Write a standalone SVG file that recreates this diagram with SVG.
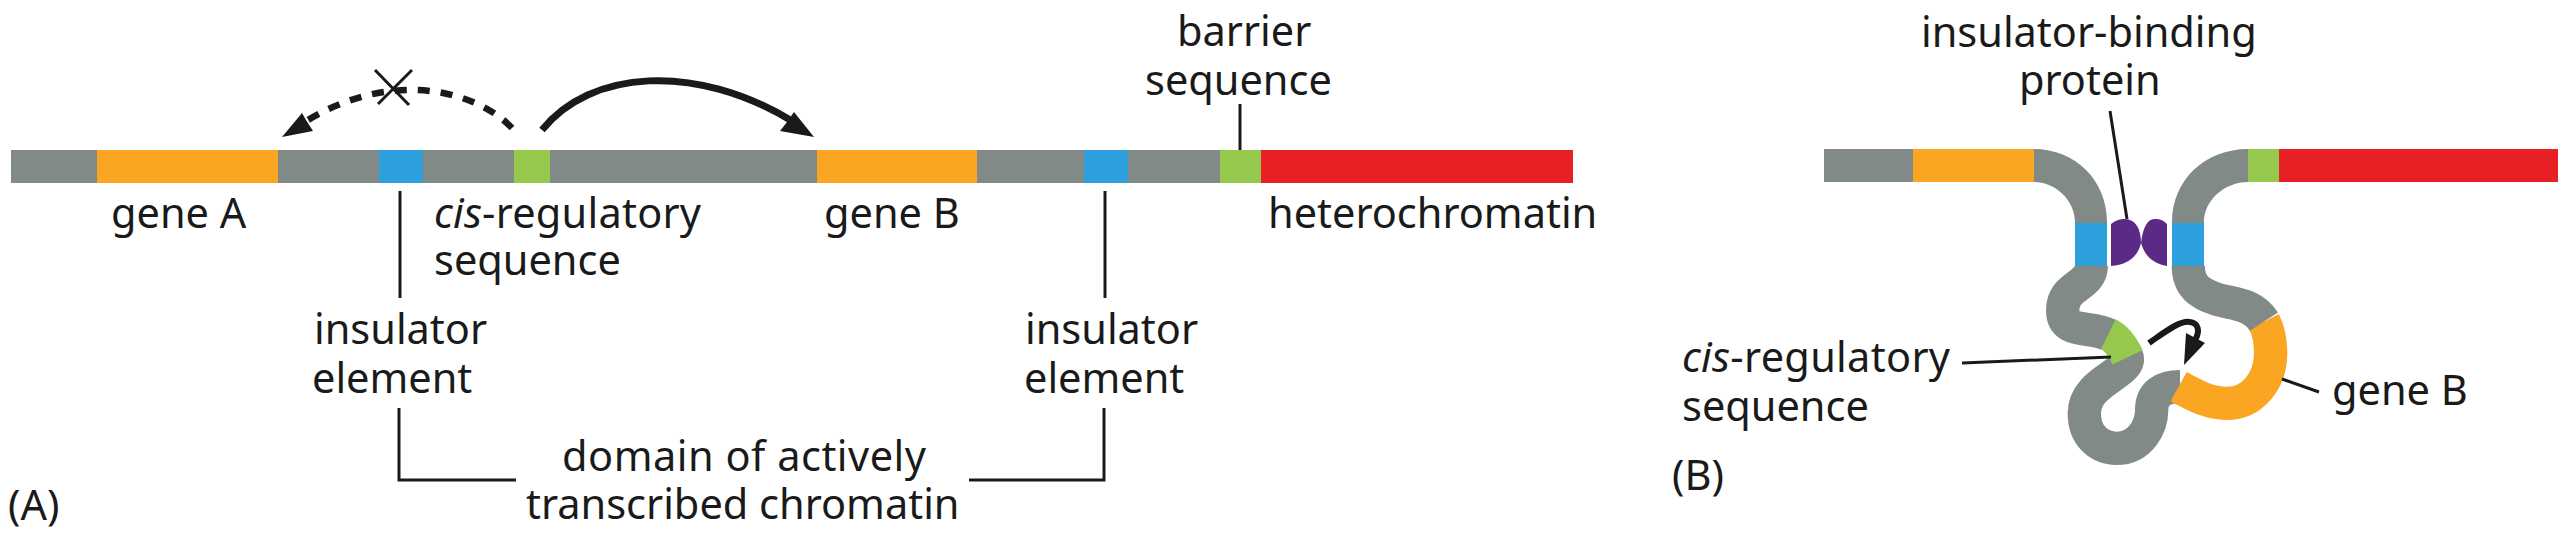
<svg xmlns="http://www.w3.org/2000/svg" width="2568" height="534" viewBox="0 0 2568 534">
<defs>
<style>
text{font-family:"Noto Sans","Open Sans",sans-serif;font-size:41.5px;fill:#1a1a1a}
.gray{fill:#828a88}.orange{fill:#faa623}.blue{fill:#2c9fdc}.green{fill:#95c84d}.red{fill:#e91f26}
.lead{fill:none;stroke:#1a1a1a;stroke-width:3}
.fiber{fill:none;stroke-width:100}
.head{fill:#1a1a1a}
</style>
</defs>
<rect width="2568" height="534" fill="#fff"/>
<g id="linear-chromatin">
<rect class="gray" x="11" y="150" width="1210" height="33"/>
<rect class="orange" x="97" y="150" width="181" height="33"/>
<rect class="blue" x="379" y="150" width="44" height="33"/>
<rect class="green" x="514" y="150" width="36" height="33"/>
<rect class="orange" x="817" y="150" width="160" height="33"/>
<rect class="blue" x="1084" y="150" width="44" height="33"/>
<rect class="green" x="1220" y="150" width="41" height="33"/>
<rect class="red" x="1261" y="150" width="312" height="33"/>
</g>
<g id="looped-chromatin">
<path class="gray" d="M1824 149H2034C2075 149 2107 180 2107 222V266H2075V222C2075 200 2055 182 2034 182H1824Z"/>
<rect class="orange" x="1913" y="149" width="121" height="33"/>
<path class="gray" d="M2248 149C2205 149 2172 180 2172 222V266H2204V222C2204 200 2225 182 2248 182Z"/>
<rect class="green" x="2248" y="149" width="31" height="33"/>
<rect class="red" x="2279" y="149" width="279" height="33"/>
<rect class="blue" x="2075" y="223" width="32" height="43"/>
<rect class="blue" x="2172" y="223" width="32" height="43"/>
<!-- fibre drawn in a 3x local grid so the widths stay even -->
<g transform="translate(1950 250) scale(.3333)">
<path class="fiber" stroke="#828a88" d="M424 47C424 110 338 105 338 180C338 255 420 225 477 255"/>
<path class="fiber" stroke="#828a88" d="M530 318C550 370 403 390 403 490C403 560 450 595 500 595C570 595 605 530 605 480C605 430 640 410 690 410"/>
<path class="fiber" stroke="#95c84d" d="M475 253C500 265 520 295 533 322"/>
<path class="fiber" stroke="#faa623" d="M686 410C740 440 780 460 830 460C910 460 962 390 962 310C962 280 955 240 942 215"/>
<path class="fiber" stroke="#828a88" d="M942 215C900 150 830 165 780 140C730 120 715 90 715 47"/>
</g>
</g>
<g id="insulator-protein">
<path fill="#5c2a86" d="M2111 224C2116 220 2120 219 2125 219C2135 219 2141 228 2141 243C2138 256 2128 265 2111 266Z"/>
<path fill="#5c2a86" d="M2167 224C2163 220 2160 219 2155 219C2148 219 2143 226 2141 243C2145 256 2152 263 2167 266Z"/>
</g>
<g id="connectors">
<path class="lead" d="M1240 104V150M400 191V298M1105 191V298M399 408V480H516M1104 408V480H969M2110 111L2127 219M1962 363L2111 357M2282 379L2319 392"/>
<path fill="none" stroke="#1a1a1a" stroke-width="7" d="M542 130C590 70 695 62 792 121"/>
<path class="head" d="M814 137L794 112L787 122L780 131Z"/>
<path fill="none" stroke="#1a1a1a" stroke-width="6.5" stroke-dasharray="12 11" d="M512 128C478 92 395 68 308 120"/>
<path class="head" d="M282 137L302 113L306 120L313 131Z"/>
<path class="lead" d="M375 70L409 105M412 70L378 104"/>
<path fill="none" stroke="#1a1a1a" stroke-width="6" d="M2149 343C2165 332 2180 320 2190 322C2199 323 2200 332 2195 340"/>
<path class="head" d="M2186 333L2205 343L2184 365Z"/>
</g>
<g id="labels">
<text x="111" y="228">gene A</text>
<text x="434" y="228" textLength="267"><tspan font-style="italic">cis</tspan>-regulatory</text>
<text x="434" y="275">sequence</text>
<text x="824" y="228">gene B</text>
<text x="1268" y="228">heterochromatin</text>
<text x="1177" y="46">barrier</text>
<text x="1145" y="95">sequence</text>
<text x="314" y="344">insulator</text>
<text x="312" y="393">element</text>
<text x="1025" y="344">insulator</text>
<text x="1024" y="393">element</text>
<text x="562" y="471" textLength="364">domain of actively</text>
<text x="526" y="519">transcribed chromatin</text>
<text x="8" y="520">(A)</text>
<text x="1672" y="490">(B)</text>
<text x="1921" y="47">insulator-binding</text>
<text x="2019" y="95">protein</text>
<text x="1682" y="372" textLength="268"><tspan font-style="italic">cis</tspan>-regulatory</text>
<text x="1682" y="421">sequence</text>
<text x="2332" y="405">gene B</text>
</g>
</svg>
